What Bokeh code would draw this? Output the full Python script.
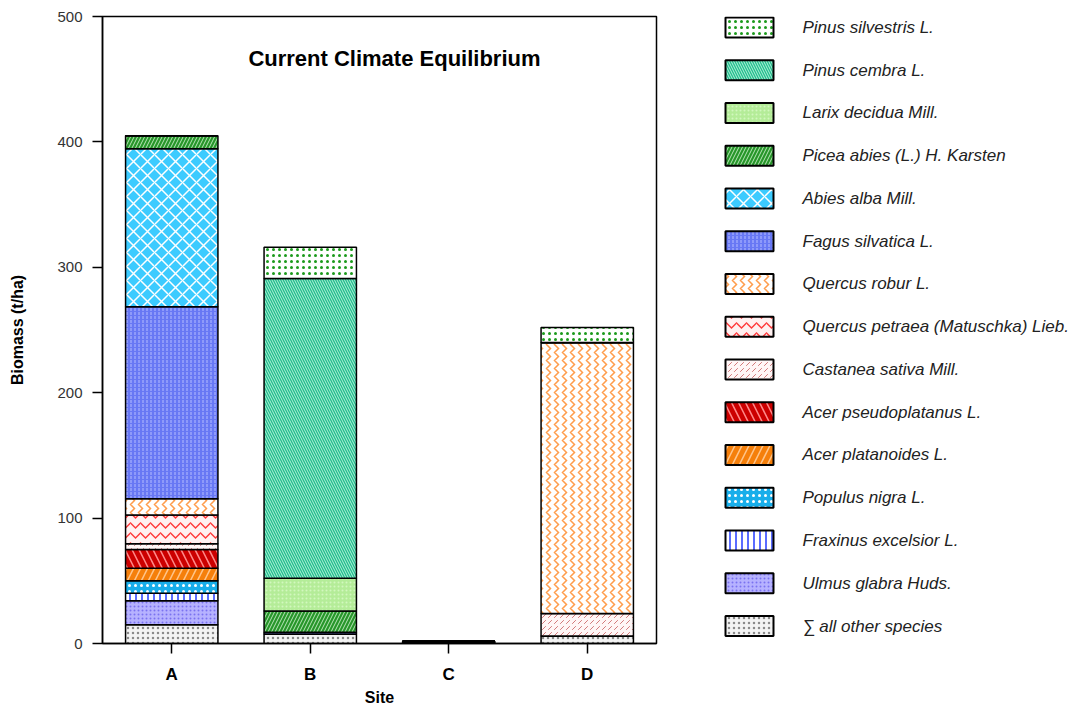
from bokeh.plotting import figure
from bokeh.models import ColumnDataSource, Range1d, Label, FixedTicker
from bokeh.layouts import row
from bokeh.embed import file_html
from bokeh.resources import INLINE
from bokeh.core.properties import value

# ---------------- data ----------------
sites = ["A", "B", "C", "D"]

all_other = [15.0, 7.5, 1.5, 6.0]
ulmus_glabra = [19.0, 0.0, 0.0, 0.0]
fraxinus_excelsior = [6.0, 0.0, 0.0, 0.0]
populus_nigra = [10.0, 0.0, 0.0, 0.0]
acer_platanoides = [10.0, 0.0, 0.0, 0.0]
acer_pseudoplatanus = [15.0, 0.0, 0.0, 0.0]
castanea_sativa = [4.5, 0.0, 0.0, 18.0]
quercus_petraea = [23.0, 0.0, 0.0, 0.0]
quercus_robur = [13.0, 0.0, 0.0, 216.0]
fagus_silvatica = [153.0, 1.5, 0.0, 0.0]
abies_alba = [126.0, 0.0, 0.0, 0.0]
picea_abies = [10.5, 17.0, 0.0, 0.0]
larix_decidua = [0.0, 26.0, 0.0, 0.0]
pinus_cembra = [0.0, 239.0, 0.0, 0.0]
pinus_silvestris = [0.0, 25.0, 0.0, 12.0]

# stacking order, bottom to top
stack_keys = ["other", "ulmus", "fraxinus", "populus", "acer_plat", "acer_pseudo",
              "castanea", "q_petraea", "q_robur", "fagus", "abies", "picea",
              "larix", "p_cembra", "p_silvestris"]
stack_values = [all_other, ulmus_glabra, fraxinus_excelsior, populus_nigra,
                acer_platanoides, acer_pseudoplatanus, castanea_sativa,
                quercus_petraea, quercus_robur, fagus_silvatica, abies_alba,
                picea_abies, larix_decidua, pinus_cembra, pinus_silvestris]
legend_labels = ["∑ all other species", "Ulmus glabra Huds.", "Fraxinus excelsior L.",
                 "Populus nigra L.", "Acer platanoides L.", "Acer pseudoplatanus L.",
                 "Castanea sativa Mill.", "Quercus petraea (Matuschka) Lieb.",
                 "Quercus robur L.", "Fagus silvatica L.", "Abies alba Mill.",
                 "Picea abies (L.) H. Karsten", "Larix decidua Mill.",
                 "Pinus cembra L.", "Pinus silvestris L."]

y_ticks = [0, 100, 200, 300, 400, 500]
title_text = "Current Climate Equilibrium"

# ---------------- styles (same order as stack_keys) ----------------
fills = ["#f3f3f3", "#b6b2ff", "#ffffff", "#18aeea", "#f57f0a", "#cc0000",
         "#fff6f6", "#fff0f0", "#ffffff", "#6878f4", "#3ccbff", "#27962a",
         "#b4ec98", "#22bf8c", "#ffffff"]
hatches = ["dot", "dot", "vertical_line", "dot", "right_diagonal_line",
           "left_diagonal_line", "right_diagonal_dash", "horizontal_wave",
           "vertical_wave", "vertical_dash", "diagonal_cross",
           "right_diagonal_line", "dot", "left_diagonal_line", "dot"]
hatch_colors = ["#8a8a8a", "#7a72f0", "#5a6cff", "#ffffff", "#ffc58a", "#ff8a8a",
                "#d27878", "#ff3b3b", "#ff9d4d", "#b4bcff", "#ffffff", "#b8e6b8",
                "#d2f7bf", "#b5efdc", "#1c9a1c"]
hatch_scales = [5, 4, 6, 6, 14, 14, 6, 10, 8, 4, 14, 7, 4, 5, 6]
hatch_weights = [1, 1, 2, 1, 1.5, 1.5, 1, 1.5, 1.5, 1, 1.5, 1, 1, 1, 2]

FONT = "Liberation Sans"

# ---------------- main plot ----------------
data = {"site": sites}
for k, v in zip(stack_keys, stack_values):
    data[k] = v
src = ColumnDataSource(data)

p = figure(x_range=sites, y_range=Range1d(0, 500),
           frame_width=554, frame_height=627,
           min_border_left=102, min_border_right=10, min_border_top=16, min_border_bottom=60,
           output_backend="svg", toolbar_location=None)
p.x_range.range_padding = 0

p.vbar_stack(stack_keys, x="site", width=0.667, source=src,
             fill_color=fills, hatch_pattern=hatches, hatch_color=hatch_colors,
             hatch_scale=hatch_scales, hatch_weight=hatch_weights,
             line_color="black", line_width=1.5)

p.xgrid.visible = False
p.ygrid.visible = False
p.outline_line_color = "black"
p.outline_line_width = 1.5
p.background_fill_color = "white"
p.border_fill_color = "white"

p.yaxis.ticker = FixedTicker(ticks=y_ticks)
p.yaxis.minor_tick_line_color = None
for ax in (p.xaxis[0], p.yaxis[0]):
    ax.axis_line_width = 1.5
    ax.major_tick_line_width = 1.5
    ax.major_tick_out = 10
    ax.major_tick_in = 0
    ax.axis_label_text_font = FONT
    ax.axis_label_text_font_style = "bold"
    ax.axis_label_text_font_size = "16px"
    ax.axis_label_text_color = "black"
    ax.major_label_text_font = FONT

p.yaxis.axis_label = "Biomass (t/ha)"
p.yaxis.major_label_text_font_size = "15px"
p.yaxis.major_label_text_color = "#333333"
p.yaxis.major_label_standoff = 10
p.yaxis.axis_label_standoff = 28

p.xaxis.axis_label = "Site"
p.xaxis.major_label_text_font_size = "17px"
p.xaxis.major_label_text_font_style = "bold"
p.xaxis.major_label_text_color = "black"
p.xaxis.major_label_standoff = 11
p.xaxis.axis_label_standoff = 2

p.add_layout(Label(x=2.108, y=466.5, text=title_text, text_align="center",
                   text_baseline="middle", text_font=FONT, text_font_style="bold",
                   text_font_size="22px", text_color="black"))

# ---------------- legend panel ----------------
order = list(range(len(stack_keys)))[::-1]  # top of stack first
lsrc = ColumnDataSource(dict(
    idx=list(range(len(order))),
    label=[legend_labels[i] for i in order],
    fill=[fills[i] for i in order],
    hatch=[hatches[i] for i in order],
    hcolor=[hatch_colors[i] for i in order],
    hscale=[hatch_scales[i] for i in order],
    hweight=[hatch_weights[i] for i in order],
))

# the legend panel's frame is aligned with the main plot frame (627 px tall)
row_h = 43.1
frame_h = 627
top_off = 11
lg = figure(width=412, height=frame_h + 76, x_range=Range1d(0, 412),
            y_range=Range1d(-top_off / row_h + frame_h / row_h, -top_off / row_h),
            x_axis_location=None, y_axis_location=None, min_border=0,
            output_backend="svg", toolbar_location=None)
lg.xgrid.visible = False
lg.ygrid.visible = False
lg.outline_line_color = None

lg.rect(x=83, y="idx", width=48, height=20, width_units="screen", height_units="screen",
        source=lsrc, fill_color="fill", hatch_pattern="hatch", hatch_color="hcolor",
        hatch_scale="hscale", hatch_weight="hweight", line_color="black", line_width=2)
lg.text(x=136, y="idx", text="label", source=lsrc, text_font=value(FONT),
        text_font_style="italic", text_font_size="17px", text_baseline="middle",
        text_color="#222222")

layout = row(p, lg)
open("out.html", "w").write(file_html(layout, INLINE))
